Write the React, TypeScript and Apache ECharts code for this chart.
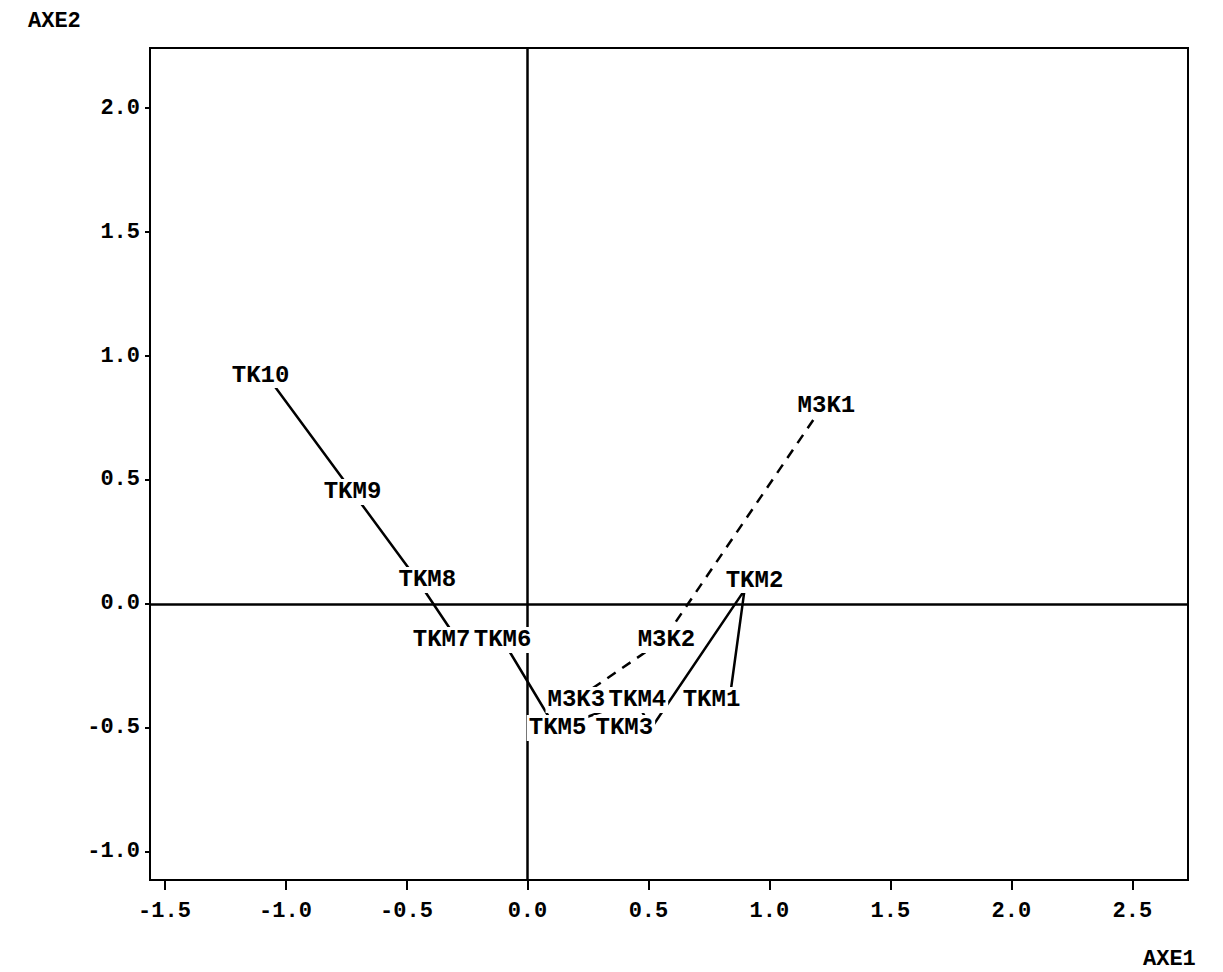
import React, { useEffect, useRef } from "react";
import * as echarts from "echarts";

// Solid trajectory (TK series)
const tkLabels = ["TK10", "TKM9", "TKM8", "TKM7", "TKM6", "TKM5", "TKM4", "TKM3", "TKM2", "TKM1"];
const tkX = [-1.07, -0.723, -0.455, -0.289, -0.103, 0.116, 0.446, 0.512, 0.897, 0.835];
const tkY = [0.911, 0.452, 0.097, -0.145, -0.145, -0.5, -0.387, -0.5, 0.056, -0.387];

// Dashed trajectory (M3K series)
const m3Labels = ["M3K1", "M3K2", "M3K3"];
const m3X = [1.223, 0.562, 0.198];
const m3Y = [0.802, -0.145, -0.387];

// Axis ticks
const xTicks = [-1.5, -1.0, -0.5, 0.0, 0.5, 1.0, 1.5, 2.0, 2.5];
const yTicks = [-1.0, -0.5, 0.0, 0.5, 1.0, 1.5, 2.0];

// label placement relative to point (layout only, px)
const tkLabelOffset = [[-8, -3], [0, 0], [10, 0], [-16, 0], [0, 0], [2, 0], [2, 0], [-27, 0], [10, -10], [-18, 0]];
const m3LabelOffset = [[3, 0], [3, 0], [1, 0]];

const FONT = "Liberation Mono";

export default function App() {
  const ref = useRef<HTMLDivElement>(null);
  useEffect(() => {
    if (!ref.current) return;
    const chart = echarts.init(ref.current, null, { renderer: "svg" });
    const tkData = tkX.map((x, i) => [x, tkY[i]]);
    const m3Data = m3X.map((x, i) => [x, m3Y[i]]);
    const labelStyle = {
      show: true,
      position: "inside",
      fontFamily: FONT,
      fontWeight: "bold",
      fontSize: 24,
      color: "#000",
      opacity: 1,
      backgroundColor: "#fff",
      padding: [1, 2],
    };
    const mkLabelPoints = (data: number[][], names: string[], offs: number[][]) =>
      data.map((d, i) => ({
        value: d,
        name: names[i],
        label: { ...labelStyle, formatter: names[i], offset: offs[i] },
      }));
    const fmt = (v: number) => v.toFixed(1);
    chart.setOption({
      animation: false,
      backgroundColor: "#fff",
      grid: {
        left: 150,
        right: 35,
        top: 48,
        bottom: 92,
        show: true,
        borderColor: "#000",
        borderWidth: 2,
        backgroundColor: "transparent",
      },
      xAxis: {
        type: "value",
        min: -1.56,
        max: 2.73,
        splitLine: { show: false },
        axisLine: { show: true, onZero: false, lineStyle: { color: "#000", width: 2 } },
        axisTick: { show: true, length: 10, customValues: xTicks, lineStyle: { color: "#000", width: 2 } },
        axisLabel: {
          customValues: xTicks,
          formatter: fmt,
          margin: 20,
          fontFamily: FONT,
          fontWeight: "bold",
          fontSize: 22,
          color: "#000",
        },
      },
      yAxis: {
        type: "value",
        min: -1.113,
        max: 2.242,
        splitLine: { show: false },
        axisLine: { show: true, onZero: false, lineStyle: { color: "#000", width: 2 } },
        axisTick: { show: true, length: 5, customValues: yTicks, lineStyle: { color: "#000", width: 2 } },
        axisLabel: {
          customValues: yTicks,
          formatter: fmt,
          margin: 10,
          fontFamily: FONT,
          fontWeight: "bold",
          fontSize: 22,
          color: "#000",
        },
      },
      graphic: [
        {
          type: "text",
          left: 28,
          top: 10,
          style: { text: "AXE2", font: `bold 22px "${FONT}"`, fill: "#000" },
        },
        {
          type: "text",
          left: 1143,
          top: 948,
          style: { text: "AXE1", font: `bold 22px "${FONT}"`, fill: "#000" },
        },
      ],
      series: [
        {
          type: "line",
          name: "TK",
          data: tkData,
          symbol: "none",
          lineStyle: { color: "#000", width: 2.5, type: "solid" },
          z: 2,
          markLine: {
            silent: true,
            symbol: "none",
            label: { show: false },
            lineStyle: { color: "#000", width: 2.5, type: "solid" },
            data: [{ xAxis: 0 }, { yAxis: 0 }],
          },
        },
        {
          type: "line",
          name: "M3K",
          data: m3Data,
          symbol: "none",
          lineStyle: { color: "#000", width: 2.5, type: [10, 8] },
          z: 2,
        },
        {
          type: "scatter",
          name: "TK labels",
          data: mkLabelPoints(tkData, tkLabels, tkLabelOffset),
          symbolSize: 0,
          itemStyle: { opacity: 1, color: "#000" },
          z: 10,
        },
        {
          type: "scatter",
          name: "M3K labels",
          data: mkLabelPoints(m3Data, m3Labels, m3LabelOffset),
          symbolSize: 0,
          itemStyle: { opacity: 1, color: "#000" },
          z: 10,
        },
      ],
    });
    return () => chart.dispose();
  }, []);
  return (
    <div
      ref={ref}
      style={{ position: "fixed", left: 0, top: 0, width: 1223, height: 972, background: "#fff" }}
    />
  );
}
